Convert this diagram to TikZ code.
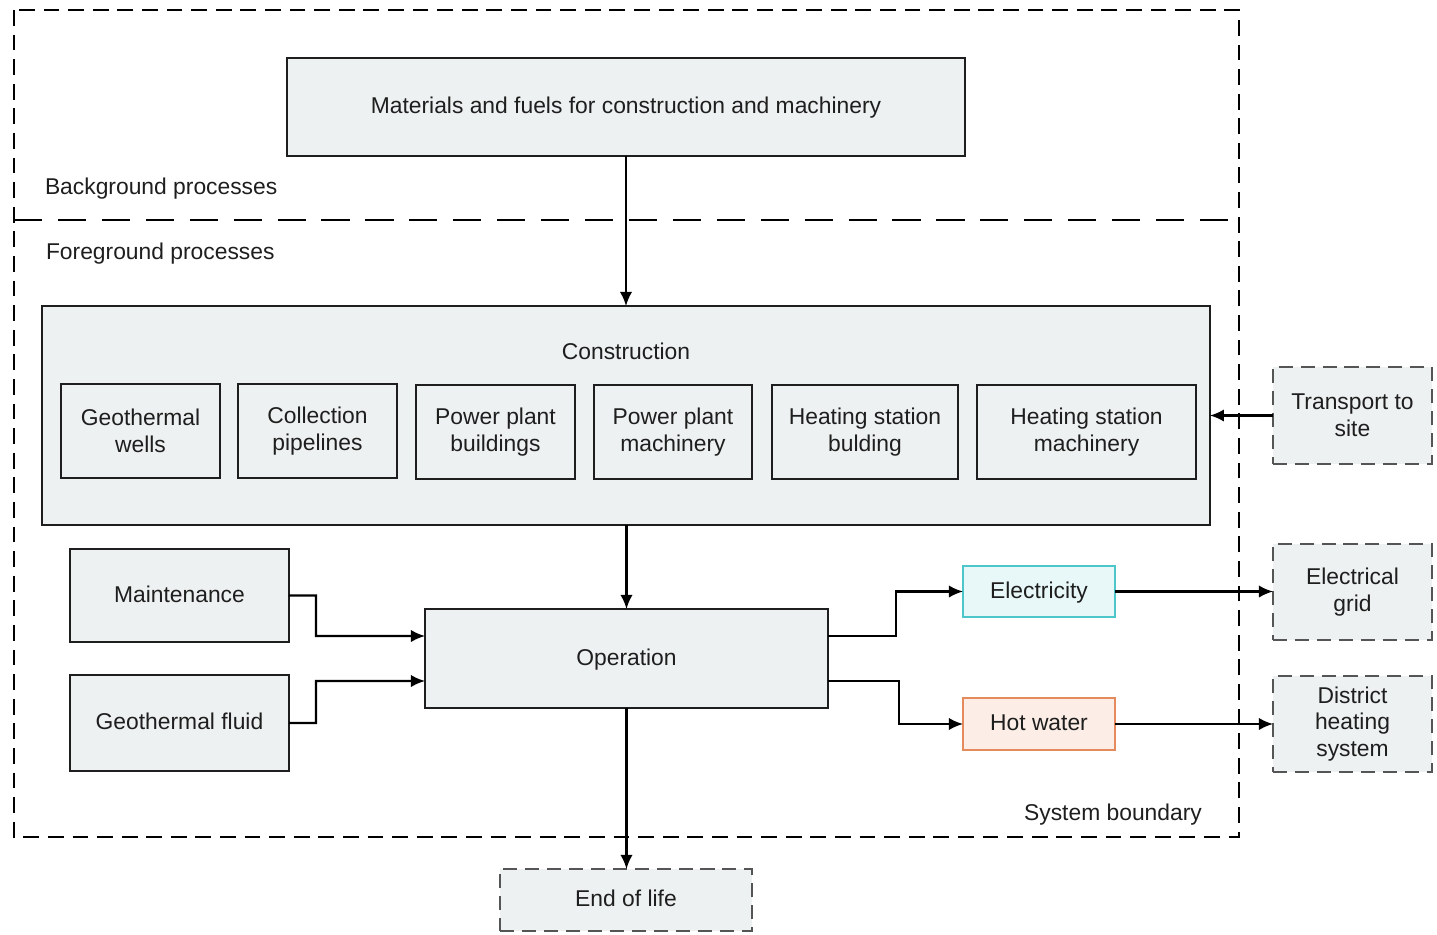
\documentclass[tikz,border=0pt]{standalone}
\usepackage{fontspec}
\setmainfont{Liberation Sans}
\usetikzlibrary{arrows.meta}
\definecolor{boxfill}{HTML}{EEF1F1}
\definecolor{boxline}{HTML}{1E1E1E}
\definecolor{extline}{HTML}{555555}
\definecolor{txt}{HTML}{1E1E1E}
\definecolor{elecfill}{HTML}{E8F8F8}
\definecolor{elecline}{HTML}{4CC6C8}
\definecolor{hotfill}{HTML}{FCEEE6}
\definecolor{hotline}{HTML}{E58A5C}
\tikzset{
  every node/.style={font=\fontsize{13}{15.3}\selectfont, text=txt, align=center, inner sep=0pt, outer sep=0pt},
  procbox/.style={draw=boxline, line width=1.2pt, fill=boxfill, rectangle},
  extbox/.style={draw=extline, line width=1.2pt, fill=boxfill, rectangle, dash pattern=on 8pt off 4.5pt},
  elecbox/.style={draw=elecline, line width=1.2pt, fill=elecfill, rectangle},
  hotbox/.style={draw=hotline, line width=1.2pt, fill=hotfill, rectangle},
  bound/.style={draw=black, line width=1.2pt, dash pattern=on 9pt off 5pt},
  sepline/.style={draw=black, line width=1.2pt, dash pattern=on 16pt off 9pt},
  arr/.style={draw=black, line width=1.2pt, -{Latex[length=8pt,width=7pt]}},
  plain/.style={text=txt}
}
\begin{document}
\begin{tikzpicture}[x=0.02cm,y=-0.02cm]
\useasboundingbox (0,0) rectangle (1437,934);
% system boundary
\draw[bound] (14,10) rectangle (1239,837);
\draw[sepline] (14,220) -- (1239,220);
\node[plain, anchor=west] (bgl) at (45,189) {Background processes};
\node[plain, anchor=west] (fgl) at (46,254) {Foreground processes};
\node[plain] (sbl) at (1113,815) {System boundary};

% background
\node[procbox, minimum width=13.56cm, minimum height=1.96cm, text depth=1.5pt] (mat) at (626,107) {Materials and fuels for construction and machinery};

% construction
\node[procbox, minimum width=23.36cm, minimum height=4.38cm] (cons) at (626,415.5) {};
\node (constitle) at (626,351) {Construction};
\node[procbox, minimum width=3.18cm, minimum height=1.88cm] (gw) at (140.5,431) {Geothermal\\wells};
\node[procbox, minimum width=3.18cm, minimum height=1.88cm] (cp) at (317.5,431) {Collection\\pipelines};
\node[procbox, minimum width=3.18cm, minimum height=1.88cm] (ppb) at (495.5,432) {Power plant\\buildings};
\node[procbox, minimum width=3.16cm, minimum height=1.88cm] (ppm) at (673,432) {Power plant\\machinery};
\node[procbox, minimum width=3.72cm, minimum height=1.88cm] (hsb) at (865,432) {Heating station\\bulding};
\node[procbox, minimum width=4.38cm, minimum height=1.88cm] (hsm) at (1086.5,432) {Heating station\\machinery};

% external
\node[extbox, minimum width=3.18cm, minimum height=1.94cm] (trans) at (1352.5,415.5) {Transport to\\site};
\node[extbox, minimum width=3.18cm, minimum height=1.92cm] (grid) at (1352.5,592) {Electrical\\grid};
\node[extbox, minimum width=3.18cm, minimum height=1.92cm] (dh) at (1352.5,724) {District\\heating\\system};
\node[extbox, minimum width=5.04cm, minimum height=1.24cm, text depth=1.5pt] (eol) at (626,900) {End of life};

% operation
\node[procbox, minimum width=8.06cm, minimum height=1.98cm, text depth=1.5pt] (op) at (626.5,658.5) {Operation};
\node[procbox, minimum width=4.38cm, minimum height=1.86cm, text depth=1.5pt] (maint) at (179.5,595.5) {Maintenance};
\node[procbox, minimum width=4.38cm, minimum height=1.92cm, text depth=1.5pt] (fluid) at (179.5,723) {Geothermal fluid};
\node[elecbox, minimum width=3.04cm, minimum height=1.02cm, text depth=1.5pt] (elec) at (1039,591.5) {Electricity};
\node[hotbox, minimum width=3.04cm, minimum height=1.04cm, text depth=1.5pt] (hot) at (1039,724) {Hot water};

% connectors
\draw[arr] (mat.south) -- (cons.north);
\draw[arr] (trans.west) -- (cons.east);
\draw[arr] (cons.south -| op.north) -- (op.north);
\draw[arr] (maint.east) -| (316,636) -- ([yshift=0.45cm]op.west);
\draw[arr] (fluid.east) -| (316,681) -- ([yshift=-0.45cm]op.west);
\draw[arr] ([yshift=0.45cm]op.east) -| (896,591.5) -- (elec.west);
\draw[arr] ([yshift=-0.45cm]op.east) -| (899,724) -- (hot.west);
\draw[arr] (elec.east) -- (grid.west |- elec.east);
\draw[arr] (hot.east) -- (dh.west);
\draw[arr] (op.south) -- (eol.north -| op.south);
\end{tikzpicture}
\end{document}
